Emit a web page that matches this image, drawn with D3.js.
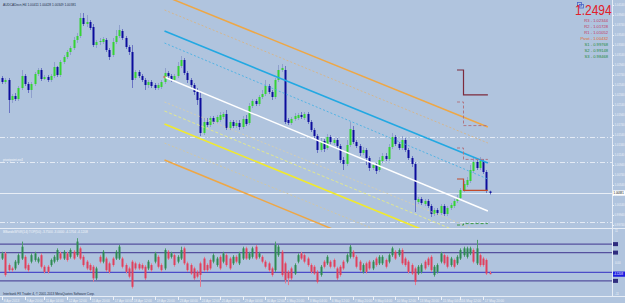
<!DOCTYPE html>
<html><head><meta charset="utf-8">
<script src="https://cdn.jsdelivr.net/npm/d3@7"></script>
<style>body{margin:0;background:#b0c4de;overflow:hidden}svg{display:block}</style>
</head><body><svg id="c" width="625" height="303"></svg>
<script>
// ---------------- DATA ----------------
const symbol = "AUDCADecn,H4";
const open = [1.0268,1.0260,1.0264,1.0224,1.0232,1.0226,1.0248,1.0272,1.0256,1.0244,
1.0256,1.0276,1.0284,1.0266,1.0270,1.0264,1.0272,1.0290,1.0274,1.0300,
1.0310,1.0320,1.0328,1.0344,1.0352,1.0388,1.0376,1.0380,1.0370,1.0334,
1.0340,1.0340,1.0344,1.0324,1.0314,1.0340,1.0352,1.0362,1.0348,1.0330,
1.0320,1.0268,1.0280,1.0272,1.0264,1.0254,1.0260,1.0254,1.0248,1.0250,
1.0260,1.0278,1.0272,1.0264,1.0272,1.0292,1.0304,1.0278,1.0264,1.0254,
1.0240,1.0228,1.0158,1.0180,1.0174,1.0188,1.0180,1.0184,1.0190,1.0196,
1.0168,1.0180,1.0172,1.0178,1.0170,1.0186,1.0178,1.0212,1.0222,1.0216,
1.0230,1.0236,1.0252,1.0240,1.0230,1.0264,1.0284,1.0284,1.0184,1.0178,
1.0186,1.0188,1.0194,1.0188,1.0196,1.0180,1.0164,1.0152,1.0124,1.0142,
1.0128,1.0150,1.0138,1.0144,1.0132,1.0104,1.0096,1.0134,1.0164,1.0140,
1.0132,1.0118,1.0124,1.0108,1.0088,1.0094,1.0084,1.0102,1.0112,1.0106,
1.0130,1.0150,1.0136,1.0128,1.0144,1.0124,1.0108,1.0096,1.0020,1.0026,
1.0016,1.0022,1.0012,0.9996,1.0004,0.9998,1.0012,0.9996,1.0008,1.0012,
1.0022,1.0028,1.0044,1.0054,1.0062,1.0082,1.0100,1.0088,1.0102,1.0080,
1.00411];
const high = [1.0272,1.0268,1.0268,1.0236,1.0238,1.0252,1.0284,1.0276,1.0260,1.0260,
1.0280,1.0288,1.0288,1.0274,1.0274,1.0276,1.0300,1.0292,1.0304,1.0314,
1.0324,1.0332,1.0350,1.0358,1.0398,1.0398,1.0394,1.0384,1.0376,1.0344,
1.0348,1.0350,1.0348,1.0328,1.0348,1.0364,1.0374,1.0366,1.0352,1.0334,
1.0334,1.0284,1.0284,1.0276,1.0268,1.0264,1.0264,1.0258,1.0258,1.0264,
1.0288,1.0282,1.0276,1.0276,1.0300,1.0312,1.0308,1.0282,1.0268,1.0258,
1.0248,1.0240,1.0188,1.0188,1.0192,1.0192,1.0194,1.0200,1.0200,1.0204,
1.0184,1.0184,1.0184,1.0184,1.0192,1.0194,1.0218,1.0226,1.0226,1.0234,
1.0244,1.0264,1.0256,1.0244,1.0268,1.0294,1.0296,1.0292,1.0188,1.0190,
1.0198,1.0198,1.0200,1.0200,1.0200,1.0184,1.0168,1.0156,1.0148,1.0146,
1.0156,1.0154,1.0148,1.0148,1.0136,1.0110,1.0144,1.0180,1.0172,1.0144,
1.0136,1.0130,1.0128,1.0112,1.0098,1.0098,1.0110,1.0118,1.0118,1.0136,
1.0158,1.0154,1.0140,1.0152,1.0148,1.0128,1.0112,1.0100,1.0030,1.0030,
1.0026,1.0026,1.0016,1.0008,1.0008,1.0016,1.0016,1.0012,1.0018,1.0026,
1.0034,1.0048,1.0062,1.0070,1.0094,1.0110,1.0108,1.0110,1.0106,1.0084,
1.00428];
const low = [1.0256,1.0256,1.0198,1.0218,1.0222,1.0222,1.0244,1.0252,1.0238,1.0228,
1.0252,1.0272,1.0262,1.0264,1.0260,1.0260,1.0268,1.0270,1.0270,1.0296,
1.0306,1.0314,1.0324,1.0338,1.0348,1.0372,1.0370,1.0364,1.0330,1.0328,
1.0334,1.0336,1.0320,1.0304,1.0310,1.0336,1.0348,1.0344,1.0326,1.0314,
1.0248,1.0264,1.0268,1.0260,1.0244,1.0248,1.0248,1.0244,1.0244,1.0246,
1.0256,1.0268,1.0260,1.0260,1.0268,1.0288,1.0274,1.0258,1.0248,1.0234,
1.0214,1.0152,1.0154,1.0170,1.0170,1.0176,1.0176,1.0180,1.0186,1.0164,
1.0164,1.0168,1.0168,1.0164,1.0166,1.0172,1.0174,1.0208,1.0212,1.0212,
1.0226,1.0232,1.0236,1.0224,1.0226,1.0260,1.0280,1.0176,1.0174,1.0174,
1.0182,1.0184,1.0186,1.0184,1.0176,1.0160,1.0148,1.0118,1.0120,1.0120,
1.0124,1.0136,1.0134,1.0128,1.0098,1.0084,1.0092,1.0130,1.0136,1.0128,
1.0112,1.0114,1.0094,1.0082,1.0084,1.0076,1.0080,1.0098,1.0102,1.0102,
1.0126,1.0132,1.0124,1.0124,1.0120,1.0104,1.0090,1.0000,1.0016,1.0014,
1.0012,1.0008,0.9990,0.9992,0.9994,0.9994,0.9992,0.9992,1.0004,1.0008,
1.0018,1.0024,1.0040,1.0050,1.0058,1.0078,1.0084,1.0084,1.0076,1.0038,
1.00349];
const close = [1.0260,1.0264,1.0224,1.0232,1.0226,1.0248,1.0272,1.0256,1.0244,1.0256,
1.0276,1.0284,1.0266,1.0270,1.0264,1.0272,1.0290,1.0274,1.0300,1.0310,
1.0320,1.0328,1.0344,1.0352,1.0388,1.0376,1.0380,1.0368,1.0334,1.0340,
1.0342,1.0346,1.0324,1.0310,1.0340,1.0352,1.0364,1.0348,1.0330,1.0320,
1.0264,1.0280,1.0272,1.0264,1.0254,1.0260,1.0252,1.0248,1.0254,1.0260,
1.0278,1.0272,1.0264,1.0272,1.0292,1.0304,1.0278,1.0264,1.0254,1.0240,
1.0224,1.0158,1.0180,1.0174,1.0188,1.0180,1.0190,1.0194,1.0196,1.0168,
1.0180,1.0172,1.0178,1.0170,1.0186,1.0176,1.0212,1.0222,1.0216,1.0230,
1.0236,1.0252,1.0240,1.0230,1.0264,1.0284,1.0288,1.0180,1.0178,1.0186,
1.0192,1.0194,1.0190,1.0196,1.0180,1.0164,1.0152,1.0124,1.0142,1.0126,
1.0150,1.0140,1.0144,1.0132,1.0104,1.0096,1.0134,1.0166,1.0140,1.0132,
1.0118,1.0124,1.0108,1.0088,1.0094,1.0082,1.0104,1.0112,1.0106,1.0130,
1.0150,1.0136,1.0128,1.0144,1.0124,1.0108,1.0096,1.0024,1.0026,1.0018,
1.0022,1.0012,0.9996,1.0004,0.9998,1.0012,0.9996,1.0008,1.0014,1.0022,
1.0028,1.0044,1.0056,1.0064,1.0084,1.0100,1.0088,1.0102,1.0080,1.0044,
1.00381];

// oscillator (lower window)
const oscName = "BBandsW%R(14) TOP(50)";
const oscOpen = [1.4,3.2,-0.9,-2.1,-2.1,-0.3,1.4,2.0,-0.9,0.3,
0.9,0.3,2.6,-1.5,-1.5,-0.9,0.3,0.9,3.2,1.4,
3.2,2.0,3.8,2.6,5.0,2.0,0.3,-0.9,-1.5,-5.6,
2.0,0.3,1.4,-0.3,1.4,1.4,1.4,1.4,-0.9,-2.1,
0.3,-0.3,-0.6,-0.9,-1.5,-2.1,-0.9,0.3,2.0,-0.9,
-2.1,3.8,2.0,2.6,0.3,1.4,5.0,-0.3,-0.9,-2.1,
-3.3,-0.3,1.4,-0.9,0.9,0.3,-0.9,2.0,0.3,2.6,
1.4,-0.3,2.0,-0.3,1.4,5.0,1.4,2.0,5.6,2.0,
2.0,0.3,-0.3,-2.1,-2.7,2.6,3.8,-0.3,-3.3,-2.1,
-3.9,0.3,3.2,2.6,1.4,-0.9,-1.5,-3.3,-4.4,0.3,
-0.3,0.3,0.9,-2.1,-1.5,0.3,0.3,2.0,3.8,2.0,
0.3,-3.3,-0.3,0.3,-2.1,1.4,-0.3,-0.3,0.9,0.3,
2.6,3.8,2.6,4.4,1.4,0.3,-0.9,-2.1,-3.9,-3.3,
0.3,1.4,2.0,-4.4,-3.3,0.3,2.6,2.0,-0.9,0.9,
-0.3,1.4,2.6,2.0,3.2,4.4,-0.3,2.6,1.4,0.9,
-3.75];
const oscHigh = [3.8,3.8,-0.3,-1.5,0.9,3.2,7.4,2.6,-0.3,3.2,
3.8,2.0,3.2,-0.9,-0.9,1.4,2.6,5.0,3.8,4.4,
3.8,5.0,4.4,8.6,5.6,2.6,0.9,-0.3,-0.9,-1.5,
2.6,4.4,2.0,0.3,2.0,4.4,6.2,2.0,-0.3,-1.5,
0.9,0.3,0.0,-0.3,-0.9,0.9,-0.3,3.8,2.6,-0.3,
5.0,4.4,3.8,3.2,2.6,5.6,5.6,0.3,-0.3,-1.5,
-2.7,0.3,2.0,-0.3,1.4,3.2,2.0,2.6,3.8,3.2,
2.0,2.6,2.6,3.8,5.6,5.6,3.8,5.6,6.2,3.8,
2.6,0.9,0.3,-1.5,7.4,6.2,4.4,0.3,-2.7,-1.5,
-0.3,3.2,3.8,3.2,2.0,-0.3,-0.9,-2.7,-0.9,0.9,
2.6,0.9,1.4,-1.5,-0.9,0.9,3.2,6.2,4.4,2.6,
0.9,-0.3,0.3,0.9,0.9,2.0,2.6,2.6,1.4,3.2,
5.6,4.4,5.0,5.0,2.0,0.9,-0.3,-1.5,-0.9,-0.3,
0.9,2.0,2.6,-0.9,-0.3,3.8,3.2,2.6,2.0,1.4,
2.6,5.0,5.6,5.6,5.6,5.0,8.0,3.2,2.0,1.4,
-3.0];
const oscLow = [0.9,-5.0,-3.3,-3.3,-2.7,-0.9,0.9,-2.7,-3.3,-0.3,
0.3,-0.3,-2.1,-3.9,-3.9,-1.5,-0.3,0.3,0.9,0.9,
0.3,1.4,0.9,2.0,0.9,-1.5,-2.7,-3.3,-6.8,-6.2,
-0.3,-0.3,-3.3,-3.9,-1.5,0.9,0.9,-2.1,-3.9,-5.6,
-9.2,-2.7,-2.7,-2.7,-6.2,-2.7,-3.3,-0.3,-2.1,-3.3,
-2.7,0.9,1.4,-1.5,-0.3,0.9,-0.9,-3.3,-4.4,-6.2,
-5.6,-8.6,-3.3,-3.3,-2.7,-0.3,-1.5,-2.7,-0.3,-1.5,
-2.7,-0.9,-0.3,-0.9,0.9,0.9,0.9,1.4,0.9,1.4,
-0.3,-2.1,-3.3,-5.0,-3.3,2.0,-5.0,-7.4,-8.0,-6.2,
-4.4,-0.3,0.9,-0.3,-1.5,-3.9,-4.4,-7.4,-5.0,-2.1,
-0.9,-2.1,-2.1,-6.2,-5.0,-2.7,-0.3,1.4,1.4,-2.1,
-3.3,-3.9,-3.9,-2.7,-2.7,-1.5,-0.9,-0.9,-2.1,-0.3,
2.0,0.9,2.0,-0.9,-1.5,-3.9,-4.4,-8.0,-4.4,-3.9,
-2.7,-1.5,-3.3,-5.0,-3.9,-0.3,-0.9,-2.1,-1.5,-2.1,
-0.9,0.9,2.0,1.4,2.6,-0.3,-0.9,-1.5,-1.5,-4.4,
-4.1704];
const oscClose = [3.2,-4.4,-2.7,-2.7,0.3,2.6,5.6,-2.1,-2.7,2.6,
3.2,1.4,-1.5,-3.3,-3.3,0.9,2.0,4.4,1.4,3.8,
0.9,4.4,1.4,7.4,1.4,-0.9,-2.1,-2.7,-5.6,-2.1,
0.3,3.8,-2.7,-3.3,-0.9,3.8,5.6,-1.5,-3.3,-5.0,
-8.6,-2.1,-2.1,-2.1,-5.6,0.3,-2.7,3.2,-1.5,-2.7,
4.4,1.4,3.2,-0.9,2.0,4.4,-0.3,-2.7,-3.9,-5.6,
-5.0,-4.4,-2.7,-2.7,-2.1,2.6,1.4,-2.1,3.2,-0.9,
-2.1,2.0,0.3,3.2,5.0,1.4,3.2,5.0,1.4,3.2,
0.3,-1.5,-2.7,-4.4,6.2,5.6,-4.4,-6.2,-5.6,-5.6,
-0.9,2.6,1.4,0.3,-0.9,-3.3,-3.9,-6.8,-1.5,-1.5,
2.0,-1.5,-1.5,-5.6,-4.4,-2.1,2.6,5.6,2.0,-1.5,
-2.7,-0.9,-3.3,-2.1,0.3,-0.9,2.0,2.0,-1.5,2.6,
5.0,1.4,4.4,-0.3,-0.9,-3.3,-3.9,-6.8,-1.5,-0.9,
-2.1,-0.9,-2.7,-1.5,-0.9,3.2,-0.3,-1.5,1.4,-1.5,
2.0,4.4,5.0,5.0,5.0,0.3,5.0,-0.9,-0.9,-3.9,
-4.1208];
const oscLevels = [6.5, 3.5, -3.5, -6.5];
const oscAxisLabels = [11, 0, -11];

// price axis tick values and time axis labels
const priceTicks = [1.0414,1.0394,1.0374,1.0354,1.0334,1.0314,1.0294,1.0274,1.0254,1.0234,
1.0214,1.0194,1.0174,1.0154,1.0134,1.0114,1.0094,1.0074,1.0054,1.0034,1.0014,0.9994,0.9974];
const timeLabels = ["8 Apr 2013","9 Apr 20:00","11 Apr 04:00","12 Apr 12:00","15 Apr 20:00","17 Apr 04:00",
"18 Apr 12:00","19 Apr 20:00","23 Apr 04:00","24 Apr 12:00","25 Apr 20:00","29 Apr 04:00","30 Apr 12:00",
"1 May 20:00","3 May 04:00","6 May 12:00","7 May 20:00","9 May 04:00","10 May 12:00","13 May 20:00",
"15 May 04:00","16 May 12:00","17 May 20:00"];
const timeLabelBars = [0,7,13,20,27,34,40,47,54,61,67,74,81,87,94,101,108,114,121,128,135,141,148];

// pivot levels
const pivotNames = ["R3","R2","R1","Pivot","S1","S2","S3"];
const pivotToday = [1.02344,1.01728,1.01052,1.00432,0.99768,0.99148,0.98468];
const pivotPrev  = [1.0284,1.0220,1.0128,1.0066,0.9974];
const pivotBarPrev = 140, pivotBarToday = 142, pivotBarEnd = 149.5;

// horizontal lines
const hLevels = [1.0150, 1.0100, 0.9980];
const hLevelLabel = "pivotpoint.ex4";

// regression channel lines: price at start bar and at end bar
const channelStartBar = 50, channelEndBar = 149.5;
const channelNames = ["orange","orangeDot","blue","blueDot","white","beigeUp","yellowDot","yellow","beigeLow","orangeLow"];
const channelStart = [1.0432,1.0404,1.0362,1.0338,1.0270,1.0220,1.0202,1.0176,1.0138,1.0104];
const channelEnd   = [1.0170,1.0138,1.0098,1.0066,1.0002,0.9954,0.9936,0.9911,0.9872,0.9838];

const bigNumber = "1.2494";

// ---------------- DRAW ----------------
const svg = d3.select("#c");
const plotR = 612;
const mainBottom = 228, oscTop = 229, oscBottom = 296;
const x = d3.scaleLinear().domain([0,150]).range([2,489.5]);
const y = d3.scaleLinear().domain([0.9968,1.0424]).range([mainBottom,0]);
const yo = d3.scaleLinear().domain([-11,11]).range([293.6,231.4]);
const FONT = "Liberation Sans, Arial, sans-serif";
const FG = "#eef2f8";
const AXF = 2.8;

svg.append("rect").attr("width",625).attr("height",303).attr("fill","#b0c4de");
const defs = svg.append("defs");
defs.append("clipPath").attr("id","cm").append("rect").attr("x",0).attr("y",0).attr("width",plotR).attr("height",mainBottom);
defs.append("clipPath").attr("id","co").append("rect").attr("x",0).attr("y",oscTop).attr("width",plotR).attr("height",oscBottom-oscTop);

const gm = svg.append("g").attr("clip-path","url(#cm)");
const go = svg.append("g").attr("clip-path","url(#co)");

// horizontal dash-dot lines
gm.selectAll("line.hl").data(hLevels).join("line")
  .attr("x1",0).attr("x2",plotR).attr("y1",d=>Math.round(y(d))+0.5).attr("y2",d=>Math.round(y(d))+0.5)
  .attr("stroke","#e4ebf5").attr("stroke-width",1).attr("stroke-dasharray","5,2,1,2");
gm.append("text").attr("x",3).attr("y",y(hLevels[1])-1.5).text(hLevelLabel)
  .attr("font-family",FONT).attr("font-size",3.2).attr("fill","#f4f7fb");

// current price line
const last = close.length-1;
gm.append("line").attr("x1",0).attr("x2",plotR)
  .attr("y1",Math.round(y(close[last]))+0.5).attr("y2",Math.round(y(close[last]))+0.5)
  .attr("stroke","#e8eef6").attr("stroke-width",1);

// candles
const bars = d3.range(open.length);
gm.selectAll("line.wick").data(bars).join("line")
  .attr("x1",i=>Math.round(x(i))+0.5).attr("x2",i=>Math.round(x(i))+0.5)
  .attr("y1",i=>y(high[i])).attr("y2",i=>y(low[i]))
  .attr("stroke",i=>close[i]>=open[i]?"#8fa0cc":"#6a74c4").attr("stroke-width",1);
gm.selectAll("rect.body").data(bars).join("rect")
  .attr("x",i=>Math.round(x(i))-0.5).attr("width",2)
  .attr("y",i=>y(Math.max(open[i],close[i])))
  .attr("height",i=>Math.max(1,Math.abs(y(open[i])-y(close[i]))))
  .attr("fill",i=>close[i]>=open[i]?"#35d235":"#0c0c9c");

// channel lines
const chStyle = {
  orange:{c:"#eea745",w:1.5,d:null}, orangeDot:{c:"#dcb27a",w:0.8,d:"2,2"},
  blue:{c:"#22a8e2",w:1.6,d:null}, blueDot:{c:"#3aaee4",w:0.8,d:"2,2"},
  white:{c:"#ffffff",w:1.4,d:null}, beigeUp:{c:"#dccfa6",w:0.8,d:"2,2"},
  yellowDot:{c:"#eef07a",w:0.8,d:"3,2"}, yellow:{c:"#f2ea2a",w:1.6,d:null},
  beigeLow:{c:"#d8c696",w:0.8,d:"2,2"}, orangeLow:{c:"#eea745",w:1.5,d:null}
};
channelNames.forEach((n,k)=>{
  const s = chStyle[n];
  gm.append("line").attr("x1",x(channelStartBar)).attr("y1",y(channelStart[k]))
    .attr("x2",x(channelEndBar)).attr("y2",y(channelEnd[k]))
    .attr("stroke",s.c).attr("stroke-width",s.w).attr("stroke-dasharray",s.d);
});
gm.append("circle").attr("cx",x(channelStartBar)).attr("cy",y(channelStart[4])).attr("r",1.2).attr("fill","#b8845a");

// pivot step lines
const pvStyle = [
  {c:"#7c2a3c",w:1.2,d:null},{c:"#b07682",w:1,d:"3,2"},{c:"#b07682",w:1,d:"3,2"},
  {c:"#c24a2a",w:1.2,d:null},{c:"#3a9a48",w:1,d:"3,2"}];
pivotPrev.forEach((p,k)=>{
  const s = pvStyle[k];
  const path = d3.path();
  path.moveTo(x(pivotBarPrev), y(p));
  path.lineTo(x(pivotBarToday), y(p));
  path.lineTo(x(pivotBarToday), y(pivotToday[k]));
  path.lineTo(x(pivotBarEnd), y(pivotToday[k]));
  gm.append("path").attr("d",path.toString()).attr("fill","none")
    .attr("stroke",s.c).attr("stroke-width",s.w).attr("stroke-dasharray",s.d);
});

// header text
svg.append("text").attr("x",3).attr("y",6)
  .text(`${symbol}  ${open[last].toFixed(5)} ${high[last].toFixed(5)} ${low[last].toFixed(5)} ${close[last].toFixed(5)}`)
  .attr("font-family",FONT).attr("font-size",3.2).attr("fill","#24304a");

// big number + icon
svg.append("rect").attr("x",577.5).attr("y",2.5).attr("width",4).attr("height",3.5).attr("fill","none").attr("stroke","#4a64c8").attr("stroke-width",0.8);
svg.append("rect").attr("x",579.5).attr("y",4.5).attr("width",4).attr("height",3.5).attr("fill","none").attr("stroke","#4a64c8").attr("stroke-width",0.8);
svg.append("text").attr("transform","translate(575,15.2) scale(1,1.25)").text(bigNumber)
  .attr("font-family",FONT).attr("font-size",12).attr("fill","#e2202a");

// pivot legend
const legColor = n => n.startsWith("R") ? "#c23a5e" : (n==="Pivot" ? "#e2682c" : "#1f8a3c");
pivotNames.forEach((n,k)=>{
  svg.append("text").attr("x",608).attr("y",21.6+6*k).attr("text-anchor","end")
    .text(`${n} - ${pivotToday[k].toFixed(5)}`)
    .attr("font-family",FONT).attr("font-size",4.1).attr("fill",legColor(n));
});

// ---------- oscillator window ----------
svg.append("line").attr("x1",0).attr("x2",625).attr("y1",mainBottom+0.5).attr("y2",mainBottom+0.5).attr("stroke","#e6edf6").attr("stroke-width",1.2);
go.selectAll("line.lv").data(oscLevels).join("line")
  .attr("x1",0).attr("x2",plotR).attr("y1",d=>yo(d)).attr("y2",d=>yo(d))
  .attr("stroke",d=>d===-3.5?"#4c4cc8":"#55509e").attr("stroke-width",1.3);
go.selectAll("line.ow").data(bars).join("line")
  .attr("x1",i=>Math.round(x(i))+0.5).attr("x2",i=>Math.round(x(i))+0.5)
  .attr("y1",i=>yo(oscHigh[i])).attr("y2",i=>yo(oscLow[i]))
  .attr("stroke",i=>oscClose[i]>=oscOpen[i]?"#4c9c6a":"#e4788e").attr("stroke-width",1);
go.selectAll("rect.ob").data(bars).join("rect")
  .attr("x",i=>Math.round(x(i))-0.5).attr("width",2)
  .attr("y",i=>yo(Math.max(oscOpen[i],oscClose[i])))
  .attr("height",i=>Math.max(1,Math.abs(yo(oscOpen[i])-yo(oscClose[i]))))
  .attr("fill",i=>oscClose[i]>=oscOpen[i]?"#2e8a52":"#e0405c");
svg.append("text").attr("x",3).attr("y",232.5)
  .text(`${oscName}   ${oscOpen[last].toFixed(4)} ${oscHigh[last].toFixed(4)} ${oscLow[last].toFixed(4)} ${oscClose[last].toFixed(4)}`)
  .attr("font-family",FONT).attr("font-size",3.2).attr("fill","#f2f5fa");
svg.append("text").attr("x",3).attr("y",294.5)
  .text("Interbank FX Trader 4, \u00a9 2001-2013 MetaQuotes Software Corp.")
  .attr("font-family",FONT).attr("font-size",3.2).attr("fill","#24304a");
svg.append("line").attr("x1",0).attr("x2",625).attr("y1",oscBottom+0.5).attr("y2",oscBottom+0.5).attr("stroke","#e6edf6").attr("stroke-width",1);

// ---------- right price axis ----------
svg.append("line").attr("x1",plotR+0.5).attr("x2",plotR+0.5).attr("y1",0).attr("y2",oscBottom).attr("stroke","#e6edf6").attr("stroke-width",1);
const ax = d3.axisRight(y).tickValues(priceTicks).tickSize(1.5).tickFormat(d3.format(".5f"));
svg.append("g").attr("transform",`translate(${plotR+0.5},0)`).call(ax)
  .call(g=>g.select(".domain").remove())
  .call(g=>g.selectAll("line").attr("stroke",FG))
  .call(g=>g.selectAll("text").attr("fill",FG).attr("font-size",AXF).attr("font-family",FONT).attr("x",2));
// current price label
const cy = y(close[last]);
svg.append("rect").attr("x",plotR+1).attr("y",cy-2.6).attr("width",12).attr("height",5.2).attr("fill","#ffffff");
svg.append("text").attr("x",plotR+1.6).attr("y",cy+1).text(close[last].toFixed(5))
  .attr("font-family",FONT).attr("font-size",AXF).attr("fill","#000");

// oscillator axis
oscAxisLabels.forEach(v=>{
  svg.append("text").attr("x",plotR+3).attr("y",yo(v)+1).text(v===0?"0.00":String(v))
    .attr("font-family",FONT).attr("font-size",AXF).attr("fill",FG);
});
oscLevels.filter(v=>v!==-3.5).forEach(v=>{
  svg.append("rect").attr("x",plotR+1).attr("y",yo(v)-2).attr("width",5).attr("height",4).attr("fill","#2e2c7e");
});
const oy = yo(oscClose[last]);
svg.append("rect").attr("x",plotR+1).attr("y",oy-2.6).attr("width",12).attr("height",5.2).attr("fill","#1c1ce0");
svg.append("text").attr("x",plotR+1.5).attr("y",oy+1).text(oscClose[last].toFixed(4))
  .attr("font-family",FONT).attr("font-size",AXF).attr("fill","#fff");

// ---------- time axis ----------
timeLabelBars.forEach((b,k)=>{
  const xx = Math.round(x(b))+0.5;
  svg.append("line").attr("x1",xx).attr("x2",xx).attr("y1",oscBottom+1).attr("y2",oscBottom+4).attr("stroke",FG);
  svg.append("text").attr("x",xx+1.3).attr("y",302).text(timeLabels[k])
    .attr("font-family",FONT).attr("font-size",3.2).attr("fill",FG);
});
</script>
</body></html>
